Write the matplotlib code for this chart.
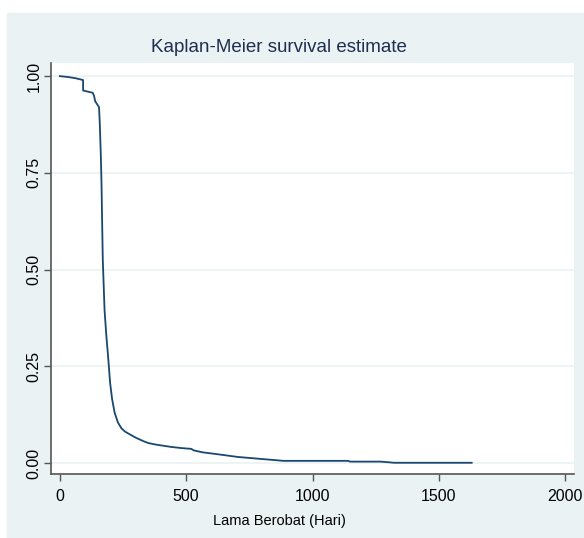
import numpy as np
import matplotlib
matplotlib.use("Agg")
import matplotlib.pyplot as plt
from matplotlib.patches import Rectangle
from matplotlib import font_manager

# colours (stata s2color look)
BG = "#EAF2F3"
NAVY = "#1A476F"
AXIS = "#555555"

# survival curve (repeated time = visible vertical drop)
times = [0, 30, 60, 92, 92, 130, 135, 140, 150, 155, 158, 162, 165, 168, 170,
         177, 184, 191, 199, 207, 217, 230, 244, 257, 270, 300, 330, 350, 380,
         410, 440, 481, 520, 530, 565, 625, 705, 795, 885, 1140, 1150, 1270,
         1325, 1630]
surv = [1.0, 0.998, 0.995, 0.99, 0.963, 0.957, 0.95, 0.935, 0.925, 0.92, 0.88,
        0.80, 0.72, 0.60, 0.525, 0.395, 0.33, 0.275, 0.207, 0.165, 0.13, 0.105,
        0.09, 0.082, 0.077, 0.066, 0.057, 0.052, 0.048, 0.045, 0.042, 0.039,
        0.037, 0.033, 0.028, 0.023, 0.016, 0.011, 0.006, 0.006, 0.004, 0.004,
        0.001, 0.001]

xticks = [0, 500, 1000, 1500, 2000]
yticks = [0.0, 0.25, 0.5, 0.75, 1.0]
ytick_labels = ["0.00", "0.25", "0.50", "0.75", "1.00"]

plt.rcParams['font.family'] = ['Liberation Sans', 'DejaVu Sans']
names = {f.name for f in font_manager.fontManager.ttflist}
narrow = 'Liberation Sans Narrow' in names
NARROW = ['Liberation Sans Narrow', 'Liberation Sans', 'DejaVu Sans']

W, H = 584, 538
fig = plt.figure(figsize=(W / 100, H / 100), dpi=100, facecolor="white")
fig.patches.append(Rectangle((7 / W, 0), 1 - 7 / W, 1 - 13 / H,
                             transform=fig.transFigure, color=BG, zorder=-10))

ax = fig.add_axes([51 / W, 64 / H, (574 - 51) / W, (474 - 63) / H])
ax.set_facecolor("white")

ax.plot(times, surv, color=NAVY, lw=1.3)

ax.set_xlim(-35, 2035)
ax.set_ylim(-0.028, 1.034)
ax.set_xticks(xticks)
ax.set_yticks(yticks)
ax.set_yticklabels(ytick_labels, rotation=90, va="center")
ax.tick_params(axis="both", direction="out", length=5, width=1, color=AXIS,
               labelsize=11.5, labelcolor="black")
ax.tick_params(axis="x", pad=6)
ax.tick_params(axis="y", pad=2)
ax.yaxis.grid(True, color=BG, lw=1.2)
ax.set_axisbelow(True)

for s in ["top", "right"]:
    ax.spines[s].set_visible(False)
for s in ["left", "bottom"]:
    ax.spines[s].set_color(AXIS)
    ax.spines[s].set_linewidth(1.2)

fig.text(279 / W, 1 - 521 / H, "Lama Berobat (Hari)", ha="center", va="center",
         fontsize=12 if narrow else 10.5, family=NARROW)
fig.text(279 / W, 1 - 48 / H, "Kaplan-Meier survival estimate", ha="center",
         va="center", fontsize=16 if narrow else 13.5, color="#1E2E50",
         family=NARROW)

fig.savefig("out.png", dpi=100, facecolor=fig.get_facecolor())
